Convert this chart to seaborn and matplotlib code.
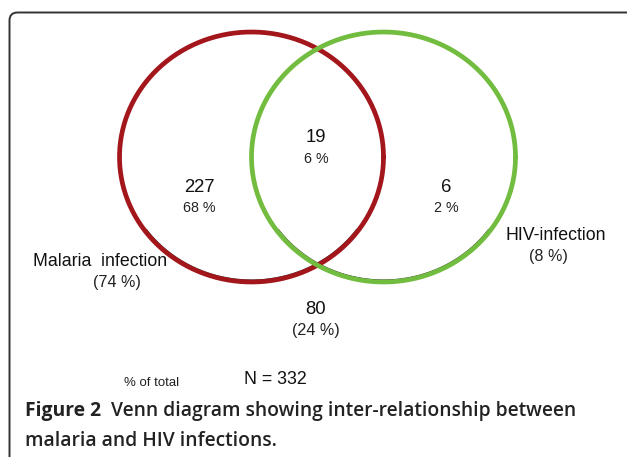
import numpy as np
import pandas as pd
import matplotlib
matplotlib.use("Agg")
import matplotlib.pyplot as plt
from matplotlib.patches import FancyBboxPatch
import seaborn as sns

# ---- data ----
set_names = ["Malaria  infection", "HIV-infection"]
set_pcts = ["(74 %)", "(8 %)"]
region_names = ["Malaria only", "Both", "HIV only", "Neither"]
region_counts = [227, 19, 6, 80]
region_pcts = ["68 %", "6 %", "2 %", "(24 %)"]
total_n = 332
set_colors = ["#A3161B", "#72BC3F"]

sns.set_theme(style="white")
plt.rcParams["font.family"] = ["Liberation Sans", "DejaVu Sans"]

fig = plt.figure(figsize=(6.27, 4.57), dpi=100)
ax = fig.add_axes([0, 0, 1, 1])

# frame (rounded box running off the right and bottom edges)
frame = FancyBboxPatch((9.5, 12.5), 640, 480, boxstyle="round,pad=0,rounding_size=8",
                       linewidth=1.4, edgecolor="#333333", facecolor="none")
ax.add_patch(frame)

# ellipses (layout)
centers = [(251.5, 157), (383.5, 157)]
rx, ry = 132, 125
t = np.linspace(0, 2 * np.pi, 400)
for (cx, cy), col in zip(centers, set_colors):
    ts = np.linspace(0.2 * np.pi, 0.8 * np.pi, 200)
    ax.plot(cx + (rx - 2.0) * np.cos(ts), cy + (ry - 2.0) * np.sin(ts),
            color="#333333", lw=0.8, zorder=2)
    df = pd.DataFrame({"x": cx + rx * np.cos(t), "y": cy + ry * np.sin(t)})
    sns.lineplot(data=df, x="x", y="y", sort=False, estimator=None,
                 color=col, linewidth=3.4, ax=ax, zorder=3)
ax.set_xlim(0, 627)
ax.set_ylim(457, 0)
ax.axis("off")

# region labels
region_pos = [(199, 188, 208), (316, 138, 159), (446, 188, 208), (316, 309, 331)]
pct_sizes = [10.3, 10.3, 10.3, 11.6]
for (x, y1, y2), n, p, ps in zip(region_pos, region_counts, region_pcts, pct_sizes):
    ax.text(x, y1, str(n), ha="center", va="center", fontsize=13.3, color="#111111")
    ax.text(x, y2, p, ha="center", va="center", fontsize=ps, color="#222222")

# set labels
set_pos = [(100, 261, 117, 283), (556, 236, 548, 257)]
for (x1, y1, x2, y2), name, p in zip(set_pos, set_names, set_pcts):
    ax.text(x1, y1, name, ha="center", va="center", fontsize=12.8, color="#111111")
    ax.text(x2, y2, p, ha="center", va="center", fontsize=11.6, color="#222222")

ax.text(152, 383, "% of total", ha="center", va="center", fontsize=9.5, color="#222222")
ax.text(275, 379, f"N = {total_n}", ha="center", va="center", fontsize=12.8, color="#111111")

# caption
cap_font = ["Open Sans", "DejaVu Sans"]
ax.text(25, 411, "Figure 2", ha="left", va="center", fontsize=13.9,
        fontweight="bold", family=cap_font, color="#222222")
ax.text(111, 411, "Venn diagram showing inter-relationship between", ha="left",
        va="center", fontsize=13.9, fontweight="semibold", family=cap_font, color="#222222")
ax.text(25, 441, "malaria and HIV infections.", ha="left", va="center", fontsize=13.9,
        fontweight="semibold", family=cap_font, color="#222222")

fig.savefig("out.png", dpi=100)
